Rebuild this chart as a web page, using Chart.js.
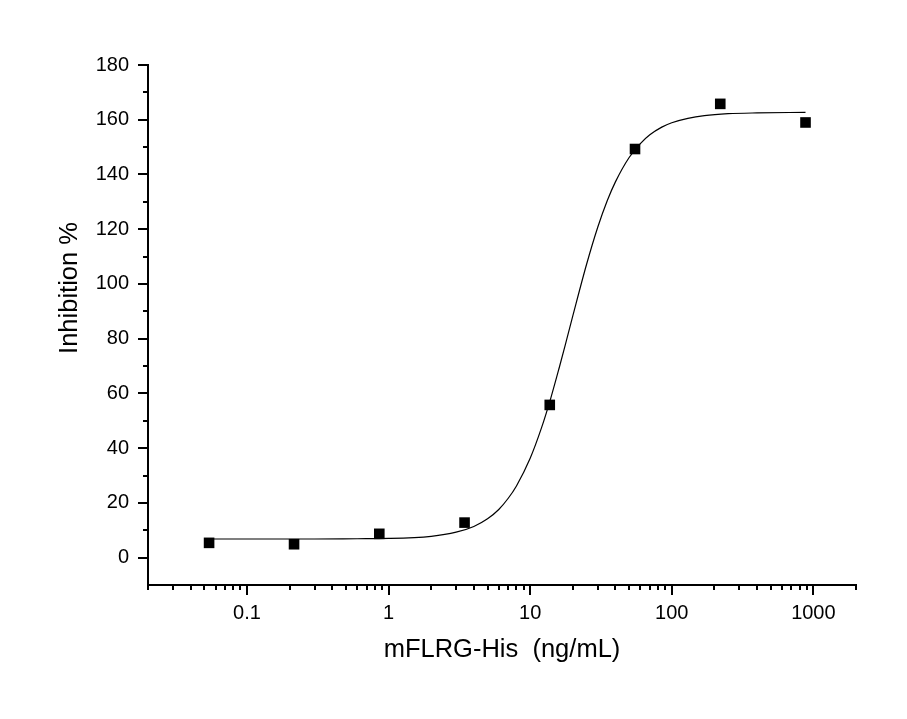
<!DOCTYPE html>
<html>
<head>
<meta charset="utf-8">
<script src="https://cdn.jsdelivr.net/npm/chart.js@4.4.0/dist/chart.umd.min.js"></script>
<style>
  html, body { margin: 0; padding: 0; background: #fff; }
  #wrap { width: 907px; height: 719px; }
</style>
</head>
<body>
<div id="wrap"><canvas id="chart"></canvas></div>
<script>
// measured points
const doseX = [0.054, 0.215, 0.86, 3.44, 13.75, 55, 220, 880];
const inhibitionY = [5.4, 4.9, 8.7, 12.8, 55.8, 149.3, 165.8, 159.0];

// fitted curve
const curveX = [0.054, 0.3, 0.6, 1, 2, 3, 4, 5, 6, 7, 8, 10, 12, 14, 16, 18, 20, 25, 30, 35, 40, 50, 60, 70, 85, 100, 130, 170, 250, 400, 880];
const curveY = [6.8, 6.8, 6.9, 7.0, 7.8, 9.3, 11.4, 14.2, 17.6, 21.7, 26.2, 36.3, 47.3, 58.4, 69.2, 79.2, 88.3, 107.1, 120.7, 130.4, 137.3, 146.2, 151.3, 154.5, 157.3, 158.9, 160.5, 161.5, 162.2, 162.5, 162.7];

const xMajorTicks = [0.1, 1, 10, 100, 1000];
const xTickLabels = ["0.1", "1", "10", "100", "1000"];
const yMajorStep = 20;

const FONT = '"Liberation Sans", Arial, sans-serif';

// minor ticks 2..9 in every decade of the axis range
function logTickValues(min, max) {
  const vals = [];
  for (let e = -2; e <= 3; e++) {
    for (let m = 1; m <= 9; m++) {
      const v = +(m * Math.pow(10, e)).toPrecision(6);
      if (v >= min - 1e-9 && v <= max + 1e-9) vals.push(v);
    }
  }
  return vals;
}

function isXMajor(v) {
  return xMajorTicks.some(t => Math.abs(t - v) / t < 1e-6);
}

const axisTicks = {
  id: "axisTicks",
  afterDraw(chart) {
    const { ctx, scales: { x, y } } = chart;
    ctx.save();
    ctx.strokeStyle = "#000";
    ctx.lineWidth = 2;
    ctx.beginPath();
    x.ticks.forEach(t => {
      const px = Math.round(x.getPixelForValue(t.value));
      const len = isXMajor(t.value) ? 10 : 5;
      ctx.moveTo(px, x.top);
      ctx.lineTo(px, x.top + len);
    });
    y.ticks.forEach(t => {
      if (t.value <= y.min) return;
      const py = Math.round(y.getPixelForValue(t.value));
      const len = t.value % yMajorStep === 0 ? 10 : 5;
      ctx.moveTo(y.right, py);
      ctx.lineTo(y.right - len, py);
    });
    ctx.stroke();

    // y axis title
    ctx.fillStyle = "#000";
    ctx.font = "25.5px " + FONT;
    ctx.textAlign = "center";
    ctx.textBaseline = "middle";
    ctx.translate(70, 288);
    ctx.rotate(-Math.PI / 2);
    ctx.fillText("Inhibition %", 0, 0);
    ctx.restore();
  }
};

new Chart(document.getElementById("chart"), {
  data: {
    datasets: [
      {
        type: "line",
        data: curveX.map((v, i) => ({ x: v, y: curveY[i] })),
        borderColor: "#000",
        borderWidth: 1.2,
        pointRadius: 0,
        fill: false,
        cubicInterpolationMode: "monotone",
      },
      {
        type: "scatter",
        data: doseX.map((v, i) => ({ x: v, y: inhibitionY[i] })),
        backgroundColor: "#000",
        borderColor: "#000",
        pointStyle: "rect",
        pointRadius: 7.5,
        borderWidth: 0,
      },
    ],
  },
  options: {
    responsive: true,
    maintainAspectRatio: false,
    animation: false,
    devicePixelRatio: 1,
    layout: { padding: { top: 65, right: 51, left: 0, bottom: 0 } },
    plugins: {
      legend: { display: false },
      tooltip: { enabled: false },
    },
    scales: {
      x: {
        type: "logarithmic",
        min: 0.02,
        max: 2000,
        afterBuildTicks: scale => {
          scale.ticks = logTickValues(0.02, 2000).map(v => ({ value: v }));
        },
        afterFit: scale => { scale.height = 134; },
        grid: { display: false, drawTicks: false },
        border: { display: true, color: "#000", width: 2 },
        ticks: {
          autoSkip: false,
          maxRotation: 0,
          padding: 16,
          color: "#000",
          font: { family: FONT, size: 20 },
          callback: v => {
            const i = xMajorTicks.findIndex(t => Math.abs(t - v) / t < 1e-6);
            return i >= 0 ? xTickLabels[i] : "";
          },
        },
        title: {
          display: true,
          text: "mFLRG-His  (ng/mL)",
          color: "#000",
          font: { family: FONT, size: 25.5 },
          padding: { top: 0, bottom: 54 },
        },
      },
      y: {
        min: -10,
        max: 180,
        afterFit: scale => { scale.width = 148; },
        grid: { display: false, drawTicks: false },
        border: { display: true, color: "#000", width: 2 },
        ticks: {
          stepSize: 10,
          padding: 19,
          color: "#000",
          font: { family: FONT, size: 20 },
          callback: v => (v % yMajorStep === 0 ? v : ""),
        },
      },
    },
  },
  plugins: [axisTicks],
});
</script>
</body>
</html>
